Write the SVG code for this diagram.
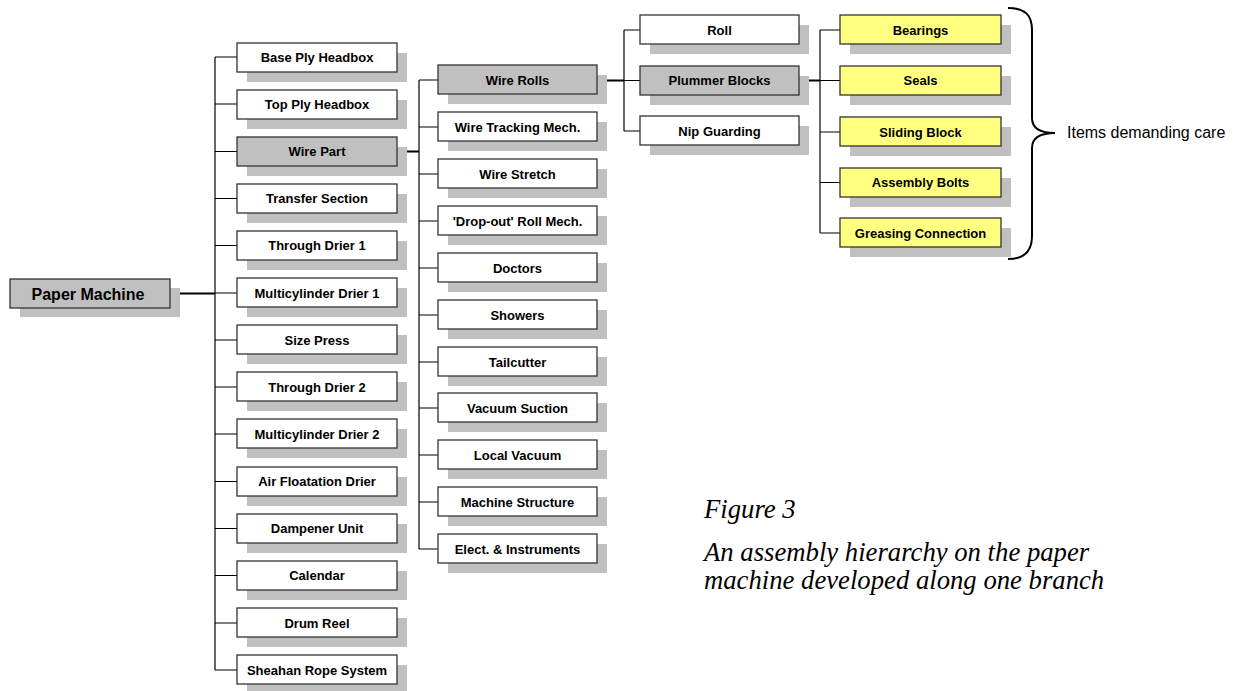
<svg xmlns="http://www.w3.org/2000/svg" width="1234" height="691" viewBox="0 0 1234 691">
<style>
.sh{fill:#c0c0c0}
.bx{fill:#ffffff;stroke:#333333;stroke-width:1.3}
.gr{fill:#c0c0c0;stroke:#333333;stroke-width:1.3}
.ye{fill:#ffff80;stroke:#333333;stroke-width:1.3}
.t{font-family:"Liberation Sans",Arial,sans-serif;font-weight:bold;font-size:13px;text-anchor:middle;fill:#000}
.ln{stroke:#000;stroke-width:1.2;fill:none}
.tk{stroke:#000;stroke-width:2;fill:none}
.cap{font-family:"Liberation Serif","Times New Roman",serif;font-style:italic;font-size:26.7px;fill:#000}
</style>
<rect width="1234" height="691" fill="#ffffff"/>
<g id="connectors">
<path class="tk" d="M170,293.5 H215"/>
<path class="ln" d="M215,57 V670"/>
<path class="ln" d="M215,57H237M215,104H237M215,151.5H237M215,198.5H237M215,245.5H237M215,293H237M215,340H237M215,387H237M215,434H237M215,481.5H237M215,528.5H237M215,575.5H237M215,623H237M215,670H237"/>
<path class="tk" d="M397,151.5 H419"/>
<path class="ln" d="M419,80 V549"/>
<path class="ln" d="M419,80H438M419,127H438M419,174H438M419,221H438M419,268H438M419,315H438M419,362H438M419,408H438M419,455H438M419,502H438M419,549H438"/>
<path class="tk" d="M597,80.5 H624"/>
<path class="ln" d="M624,30 V131"/>
<path class="ln" d="M624,30H640M624,80.5H640M624,131H640"/>
<path class="tk" d="M799,80.5 H820"/>
<path class="ln" d="M820,30 V233"/>
<path class="ln" d="M820,30H840M820,80.5H840M820,132H840M820,182.5H840M820,233H840"/>
</g>
<g id="n-paper-machine"><rect class="sh" x="20" y="288" width="160" height="29"/><rect class="gr" x="10" y="279" width="160" height="29"/><text class="t" x="88" y="299.5" style="font-size:16px">Paper Machine</text></g>
<g id="n-base-ply"><rect class="sh" x="247" y="53" width="160" height="29"/><rect class="bx" x="237" y="43" width="160" height="29"/><text class="t" x="317" y="62">Base Ply Headbox</text></g>
<g id="n-top-ply"><rect class="sh" x="247" y="100" width="160" height="29"/><rect class="bx" x="237" y="90" width="160" height="29"/><text class="t" x="317" y="109">Top Ply Headbox</text></g>
<g id="n-wire-part"><rect class="sh" x="247" y="147" width="160" height="29"/><rect class="gr" x="237" y="137" width="160" height="29"/><text class="t" x="317" y="156">Wire Part</text></g>
<g id="n-transfer"><rect class="sh" x="247" y="194" width="160" height="29"/><rect class="bx" x="237" y="184" width="160" height="29"/><text class="t" x="317" y="203">Transfer Section</text></g>
<g id="n-through1"><rect class="sh" x="247" y="241" width="160" height="29"/><rect class="bx" x="237" y="231" width="160" height="29"/><text class="t" x="317" y="250">Through Drier 1</text></g>
<g id="n-multi1"><rect class="sh" x="247" y="288" width="160" height="29"/><rect class="bx" x="237" y="278" width="160" height="29"/><text class="t" x="317" y="297.5">Multicylinder Drier 1</text></g>
<g id="n-size-press"><rect class="sh" x="247" y="335" width="160" height="29"/><rect class="bx" x="237" y="325" width="160" height="29"/><text class="t" x="317" y="344.5">Size Press</text></g>
<g id="n-through2"><rect class="sh" x="247" y="382" width="160" height="29"/><rect class="bx" x="237" y="372" width="160" height="29"/><text class="t" x="317" y="391.5">Through Drier 2</text></g>
<g id="n-multi2"><rect class="sh" x="247" y="429" width="160" height="29"/><rect class="bx" x="237" y="419" width="160" height="29"/><text class="t" x="317" y="438.5">Multicylinder Drier 2</text></g>
<g id="n-air"><rect class="sh" x="247" y="477" width="160" height="29"/><rect class="bx" x="237" y="467" width="160" height="29"/><text class="t" x="317" y="486">Air Floatation Drier</text></g>
<g id="n-dampener"><rect class="sh" x="247" y="524" width="160" height="29"/><rect class="bx" x="237" y="514" width="160" height="29"/><text class="t" x="317" y="533">Dampener Unit</text></g>
<g id="n-calendar"><rect class="sh" x="247" y="571" width="160" height="29"/><rect class="bx" x="237" y="561" width="160" height="29"/><text class="t" x="317" y="580">Calendar</text></g>
<g id="n-drum"><rect class="sh" x="247" y="618" width="160" height="29"/><rect class="bx" x="237" y="608" width="160" height="29"/><text class="t" x="317" y="627.5">Drum Reel</text></g>
<g id="n-sheahan"><rect class="sh" x="247" y="665" width="160" height="29"/><rect class="bx" x="237" y="655" width="160" height="29"/><text class="t" x="317" y="674.5">Sheahan Rope System</text></g>
<g id="n-wire-rolls"><rect class="sh" x="448" y="75" width="159" height="29"/><rect class="gr" x="438" y="65" width="159" height="29"/><text class="t" x="517.5" y="84.5">Wire Rolls</text></g>
<g id="n-wire-tracking"><rect class="sh" x="448" y="122" width="159" height="29"/><rect class="bx" x="438" y="112" width="159" height="29"/><text class="t" x="517.5" y="131.5">Wire Tracking Mech.</text></g>
<g id="n-wire-stretch"><rect class="sh" x="448" y="169" width="159" height="29"/><rect class="bx" x="438" y="159" width="159" height="29"/><text class="t" x="517.5" y="178.5">Wire Stretch</text></g>
<g id="n-dropout"><rect class="sh" x="448" y="216" width="159" height="29"/><rect class="bx" x="438" y="206" width="159" height="29"/><text class="t" x="517.5" y="225.5">'Drop-out' Roll Mech.</text></g>
<g id="n-doctors"><rect class="sh" x="448" y="263" width="159" height="29"/><rect class="bx" x="438" y="253" width="159" height="29"/><text class="t" x="517.5" y="272.5">Doctors</text></g>
<g id="n-showers"><rect class="sh" x="448" y="310" width="159" height="29"/><rect class="bx" x="438" y="300" width="159" height="29"/><text class="t" x="517.5" y="319.5">Showers</text></g>
<g id="n-tailcutter"><rect class="sh" x="448" y="357" width="159" height="29"/><rect class="bx" x="438" y="347" width="159" height="29"/><text class="t" x="517.5" y="366.5">Tailcutter</text></g>
<g id="n-vacuum-suction"><rect class="sh" x="448" y="403" width="159" height="29"/><rect class="bx" x="438" y="393" width="159" height="29"/><text class="t" x="517.5" y="412.5">Vacuum Suction</text></g>
<g id="n-local-vacuum"><rect class="sh" x="448" y="450" width="159" height="29"/><rect class="bx" x="438" y="440" width="159" height="29"/><text class="t" x="517.5" y="459.5">Local Vacuum</text></g>
<g id="n-machine-structure"><rect class="sh" x="448" y="497" width="159" height="29"/><rect class="bx" x="438" y="487" width="159" height="29"/><text class="t" x="517.5" y="506.5">Machine Structure</text></g>
<g id="n-elect"><rect class="sh" x="448" y="544" width="159" height="29"/><rect class="bx" x="438" y="534" width="159" height="29"/><text class="t" x="517.5" y="553.5">Elect. &amp; Instruments</text></g>
<g id="n-roll"><rect class="sh" x="650" y="25" width="159" height="29"/><rect class="bx" x="640" y="15" width="159" height="29"/><text class="t" x="719.5" y="34.5">Roll</text></g>
<g id="n-plummer"><rect class="sh" x="650" y="76" width="159" height="29"/><rect class="gr" x="640" y="66" width="159" height="29"/><text class="t" x="719.5" y="85">Plummer Blocks</text></g>
<g id="n-nip"><rect class="sh" x="650" y="126" width="159" height="29"/><rect class="bx" x="640" y="116" width="159" height="29"/><text class="t" x="719.5" y="135.5">Nip Guarding</text></g>
<g id="n-bearings"><rect class="sh" x="850" y="25" width="161" height="29"/><rect class="ye" x="840" y="15" width="161" height="29"/><text class="t" x="920.5" y="34.5">Bearings</text></g>
<g id="n-seals"><rect class="sh" x="850" y="76" width="161" height="29"/><rect class="ye" x="840" y="66" width="161" height="29"/><text class="t" x="920.5" y="85">Seals</text></g>
<g id="n-sliding"><rect class="sh" x="850" y="127" width="161" height="29"/><rect class="ye" x="840" y="117" width="161" height="29"/><text class="t" x="920.5" y="136.5">Sliding Block</text></g>
<g id="n-bolts"><rect class="sh" x="850" y="178" width="161" height="29"/><rect class="ye" x="840" y="168" width="161" height="29"/><text class="t" x="920.5" y="187">Assembly Bolts</text></g>
<g id="n-greasing"><rect class="sh" x="850" y="228" width="161" height="29"/><rect class="ye" x="840" y="218" width="161" height="29"/><text class="t" x="920.5" y="237.5">Greasing Connection</text></g>
<g id="brace">
<path d="M1008,8 C1025,8 1032,15 1032,30 L1032,118 C1032,128 1040,133 1055,133 C1040,133 1032,138 1032,148 L1032,236 C1032,251 1025,259 1008,259" fill="none" stroke="#000" stroke-width="2"/>
<text x="1067" y="138" style="font-family:'Liberation Sans',Arial,sans-serif;font-size:16px;fill:#000">Items demanding care</text>
</g>
<g id="caption">
<text class="cap" x="704" y="518">Figure 3</text>
<text class="cap" x="704" y="561">An assembly hierarchy on the paper</text>
<text class="cap" x="704" y="589">machine developed along one branch</text>
</g>
</svg>
